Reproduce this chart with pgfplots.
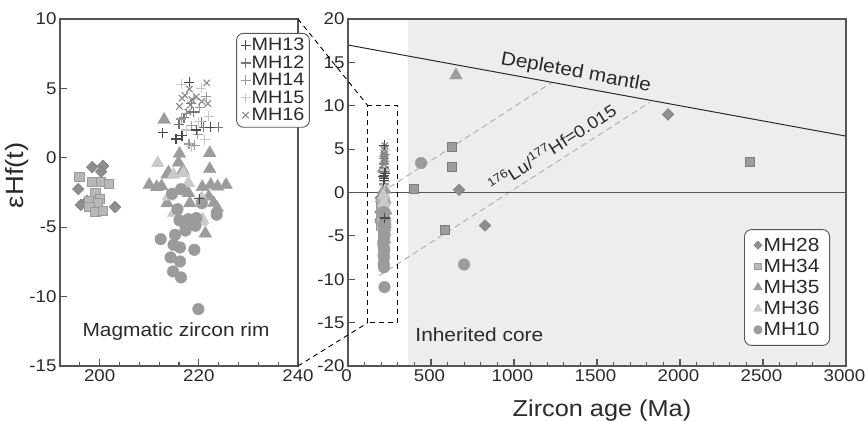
\documentclass[border=0pt]{standalone}
\usepackage{pgfplots}
\usepackage{pgfplotstable}
\pgfplotsset{compat=1.18}
\usepackage{fontspec}
\setmainfont{Liberation Sans}[FakeStretch=1.1]
\definecolor{axc}{HTML}{555555}
\definecolor{bgc}{HTML}{EDEDED}
\definecolor{c28}{HTML}{8E8E8E}
\definecolor{c28d}{HTML}{7E7E7E}
\definecolor{c34}{HTML}{B8B8B8}
\definecolor{c34d}{HTML}{9A9A9A}
\definecolor{c35}{HTML}{9C9C9C}
\definecolor{c36}{HTML}{C9C9C9}
\definecolor{c10}{HTML}{9B9B9B}
\definecolor{c13}{HTML}{4A4A4A}
\definecolor{c12}{HTML}{757575}
\definecolor{c14}{HTML}{9A9A9A}
\definecolor{c15}{HTML}{C6C6C6}
\definecolor{c16}{HTML}{888888}
\definecolor{txt}{HTML}{2A2A2A}

\pgfplotstableread{
x y
198.5 -0.67
200.7 -0.58
200.3 -1.0
195.7 -2.25
196.2 -3.39
203.1 -3.55
197.5 -3.1
}\tA
\pgfplotstableread{
x y
195.9 -1.35
198.4 -1.75
200.3 -1.75
201.9 -1.9
199.1 -2.5
200.1 -2.95
197.9 -3.1
199.7 -3.27
197.9 -3.55
199.1 -3.87
200.7 -3.8
}\tB
\pgfplotstableread{
x y
213.0 2.74
216.1 0.29
222.2 0.34
215.9 -0.34
222.2 -0.81
213.9 -1.06
213.6 -1.2
216.8 -0.9
210.0 -1.95
211.5 -2.11
212.5 -2.05
220.7 -2.1
222.4 -1.95
223.8 -2.07
225.5 -1.95
213.6 -3.27
217.9 -2.54
218.2 -3.27
222.0 -2.79
223.7 -3.62
223.0 -3.26
221.3 -5.45
}\tC
\pgfplotstableread{
x y
211.7 -0.38
214.9 -1.22
216.9 -1.1
217.9 -1.82
213.9 -2.79
220.6 -2.9
214.9 -3.98
220.8 -4.47
220.5 -4.6
}\tD
\pgfplotstableread{
x y
214.6 -2.59
216.4 -2.26
215.7 -3.7
216.1 -4.5
217.9 -4.42
219.5 -4.34
220.6 -3.27
223.6 -4.1
219.3 -4.9
217.3 -4.92
218.3 -4.7
217.3 -5.24
215.2 -5.55
212.3 -5.86
214.9 -6.27
216.2 -6.46
219.1 -6.63
214.3 -7.18
216.2 -7.47
214.8 -8.19
216.4 -8.62
219.9 -10.9
}\tE
\pgfplotstableread{
x y
212.7 1.8
215.4 1.35
216.6 1.6
222.3 2.2
218.1 5.45
219.5 2.0
220.1 -2.95
}\tF
\pgfplotstableread{
x y
217.0 2.9
219.0 3.3
220.5 2.6
221.0 2.2
223.9 2.2
216.0 2.4
218.5 3.9
}\tG
\pgfplotstableread{
x y
217.5 3.2
218.5 2.3
219.8 1.7
220.2 3.6
216.5 2.8
221.5 4.4
218.0 1.0
219.2 0.9
}\tH
\pgfplotstableread{
x y
216.5 5.3
219.0 4.2
220.5 5.0
221.2 1.3
217.5 2.0
222.0 3.0
218.5 0.8
220.0 2.6
}\tI
\pgfplotstableread{
x y
221.6 5.4
218.1 4.95
216.6 4.3
218.6 4.2
220.6 4.06
216.1 3.7
218.3 3.8
217.2 4.5
219.5 4.4
221.8 3.9
217.8 3.3
}\tJ

\pgfplotsset{
 s28/.style={only marks, mark=square*, mark size=4.1pt, mark options={rotate=45, fill=c28, draw=c28d, line width=0.5pt}},
 s34/.style={only marks, mark=square*, mark size=4.6pt, mark options={fill=c34, draw=c34d, line width=0.6pt}},
 s35/.style={only marks, mark=triangle*, mark size=7.4pt, mark options={fill=c35, draw=c35, line width=0.3pt}},
 s36/.style={only marks, mark=triangle*, mark size=7.4pt, mark options={fill=c36, draw=c36, line width=0.3pt}},
 s10/.style={only marks, mark=*, mark size=5.8pt, mark options={fill=c10, draw=c10}},
 s13/.style={only marks, color=c13, mark=+, mark size=5pt, mark options={draw=c13, line width=1.2pt}},
 s12/.style={only marks, color=c12, mark=+, mark size=5pt, mark options={draw=c12, line width=1.2pt}},
 s14/.style={only marks, color=c14, mark=+, mark size=5pt, mark options={draw=c14, line width=1.2pt}},
 s15/.style={only marks, color=c15, mark=+, mark size=5pt, mark options={draw=c15, line width=1.2pt}},
 s16/.style={only marks, color=c16, mark=x, mark size=4.5pt, mark options={draw=c16, line width=1.1pt}},
 base/.style={scale only axis, axis on top, axis line style={axc, line width=1.1pt},
   tick style={axc, line width=1.1pt}, tick align=inside, major tick length=7pt, minor tick length=4pt,
   xtick pos=bottom, ytick pos=left,
   tick label style={font=\fontsize{17}{17}\selectfont, color=txt},
   /pgf/number format/assume math mode=true, /pgf/number format/1000 sep={},
   label style={font=\fontsize{23}{23}\selectfont, color=txt}},
}

\begin{document}
\begin{tikzpicture}
\useasboundingbox (0,0) rectangle (865pt,422pt);
\begin{axis}[base, name=L, at={(60pt,56pt)}, anchor=south west, width=238pt, height=347pt,
  xmin=192, xmax=240, ymin=-15, ymax=10,
  xtick={200,220,240}, minor xtick={196,204,208,212,216,224,228,232,236},
  ytick={-15,-10,...,10},
  ylabel={εHf(t)}, ylabel style={at={(axis description cs:-0.179,0.55)}, anchor=center, rotate=0, font=\fontsize{25}{25}\selectfont}]
\addplot[s28] table {\tA};
\addplot[s34] table {\tB};
\addplot[s35] table {\tC};
\addplot[s36] table {\tD};
\addplot[s10] table {\tE};
\addplot[s12] table {\tG};
\addplot[s14] table {\tH};
\addplot[s15] table {\tI};
\addplot[s16] table {\tJ};
\addplot[s13] table {\tF};
\node[font=\fontsize{19}{19}\selectfont, color=txt] at (axis cs:215.4,-12.5) {Magmatic zircon rim};
\coordinate (LT) at (rel axis cs:1,1);
\coordinate (LB) at (rel axis cs:1,0);
\end{axis}
\begin{axis}[name=L2, at={(60pt,56pt)}, anchor=south west, width=238pt, height=347pt, scale only axis,
  xmin=192, xmax=240, ymin=-15, ymax=10, hide axis,
  legend style={at={(0.74,0.96)}, anchor=north west, draw=axc, line width=0.9pt, rounded corners=7pt, fill=white,
     font=\fontsize{18}{18}\selectfont, text=txt, row sep=1.5pt, inner xsep=4pt, inner ysep=4pt,
     nodes={inner sep=1pt}},
  legend cell align=left]
\addplot[s13] coordinates {(300,0)}; \addlegendentry{MH13}
\addplot[s12] coordinates {(300,0)}; \addlegendentry{MH12}
\addplot[s14] coordinates {(300,0)}; \addlegendentry{MH14}
\addplot[s15] coordinates {(300,0)}; \addlegendentry{MH15}
\addplot[s16] coordinates {(300,0)}; \addlegendentry{MH16}
\end{axis}
\begin{axis}[base, name=R, at={(348pt,56pt)}, anchor=south west, width=498pt, height=347pt,
  xmin=0, xmax=3000, ymin=-20, ymax=20,
  xtick={0,500,...,3000}, minor x tick num=4, ytick={-20,-15,...,20},
  xticklabel style={xshift=-1.5pt},
  xlabel={Zircon age (Ma)}, xlabel style={at={(axis description cs:0.51,-0.128)}, anchor=center},
  legend style={at={(0.968,0.058)}, anchor=south east, draw=axc, line width=0.9pt, rounded corners=7pt, fill=white,
     font=\fontsize{19}{19}\selectfont, text=txt, row sep=4pt, inner xsep=9pt, inner ysep=7pt,
     nodes={inner sep=1.2pt}},
  legend image post style={every mark/.append style={scale=0.7}},
  legend cell align=left]
\addplot[fill=bgc, draw=none, forget plot] coordinates {(360,-20) (3000,-20) (3000,20) (360,20)} -- cycle;
\addplot[color=c35!80, line width=1pt, dash pattern=on 6pt off 4pt, forget plot] coordinates {(250,0.6) (1229,12.7)};
\addplot[color=c35!80, line width=1pt, dash pattern=on 6pt off 4pt, forget plot] coordinates {(187,-9.6) (1819,10.4)};
\addplot[color=axc, line width=1.5pt, forget plot] coordinates {(0,0) (3000,0)};
\addplot[color=txt, line width=1pt, forget plot] coordinates {(0,17) (3000,6.5)};
\draw[black, line width=0.9pt, dash pattern=on 5pt off 4pt] (axis cs:120,-15) rectangle (axis cs:300,10);
\addplot[s28] table {\tA};
\addplot[s34] table {\tB};
\addplot[s35] table {\tC};
\addplot[s36] table {\tD};
\addplot[s10] table {\tE};
\addplot[s12, forget plot] table {\tG};
\addplot[s14, forget plot] table {\tH};
\addplot[s15, forget plot] table {\tI};
\addplot[s16, forget plot] table {\tJ};
\addplot[s13, forget plot] table {\tF};
\addplot[s28, forget plot] coordinates {(669,0.3) (825,-3.8) (1928,9.0)};
\addplot[s34, forget plot, mark options={fill=c35, draw=c28d, line width=0.6pt}] coordinates {(627,5.3) (626,3.0) (398,0.4) (584,-4.3) (2421,3.5)};
\addplot[s35, forget plot] coordinates {(650,13.5)};
\addplot[s10, forget plot] coordinates {(440,3.4) (699,-8.3)};
\legend{MH28,MH34,MH35,MH36,MH10}
\node[rotate=-10.3, font=\fontsize{19}{19}\selectfont, color=txt] at (axis cs:1373,13.8) {Depleted mantle};
\node[rotate=32.6, font=\fontsize{17}{17}\selectfont, color=txt] at (axis cs:1229,5.2) {\textsuperscript{176}Lu/\textsuperscript{177}Hf=0.015};
\node[anchor=west, font=\fontsize{19}{19}\selectfont, color=txt] at (axis cs:385,-16.4) {Inherited core};
\coordinate (RT) at (axis cs:120,10);
\coordinate (RB) at (axis cs:120,-15);
\end{axis}
\draw[black, line width=0.9pt, dash pattern=on 5pt off 4pt] (LT) -- (RT);
\draw[black, line width=0.9pt, dash pattern=on 5pt off 4pt] (LB) -- (RB);
\end{tikzpicture}
\end{document}
